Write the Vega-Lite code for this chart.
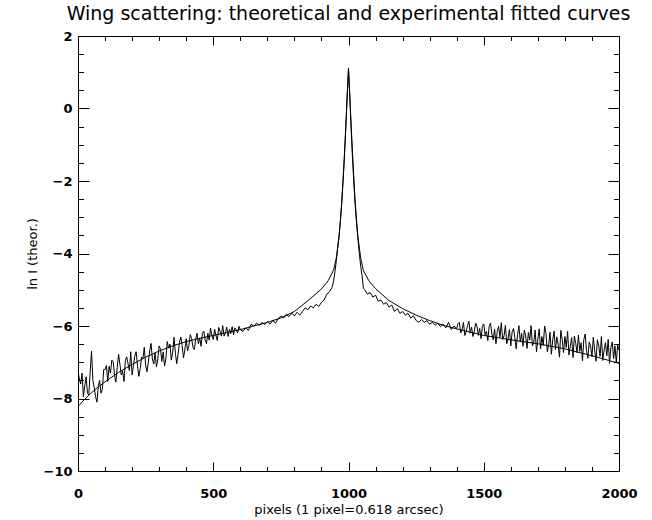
{
  "$schema": "https://vega.github.io/schema/vega-lite/v6.json",
  "autosize": "none",
  "width": 541,
  "height": 435,
  "padding": {"left": 78, "top": 36, "right": 33, "bottom": 49},
  "background": "white",
  "title": {"text": "Wing scattering: theoretical and experimental fitted curves", "font": "DejaVu Sans", "fontSize": 19, "fontWeight": "normal", "color": "black", "offset": 6, "anchor": "middle"},
  "config": {
    "view": {"stroke": "black", "strokeWidth": 1},
    "axis": {"domain": false, "grid": false, "tickColor": "black", "tickWidth": 1, "labelColor": "black", "titleColor": "black", "labelFont": "DejaVu Sans", "labelFontWeight": "bold", "labelFontSize": 13, "titleFont": "DejaVu Sans", "titleFontWeight": "normal", "titleFontSize": 13, "labelFlush": false, "labelOverlap": false}
  },
  "datasets": {
    "theory": [
      {"px": 0, "lnI": -8.22}, {"px": 25, "lnI": -8.02}, {"px": 50, "lnI": -7.84}, {"px": 75, "lnI": -7.68}, {"px": 100, "lnI": -7.54},
      {"px": 150, "lnI": -7.28}, {"px": 200, "lnI": -7.06}, {"px": 250, "lnI": -6.86}, {"px": 300, "lnI": -6.69}, {"px": 350, "lnI": -6.55},
      {"px": 400, "lnI": -6.43}, {"px": 450, "lnI": -6.34}, {"px": 500, "lnI": -6.26}, {"px": 550, "lnI": -6.18}, {"px": 600, "lnI": -6.1},
      {"px": 650, "lnI": -6.0}, {"px": 700, "lnI": -5.9}, {"px": 750, "lnI": -5.78}, {"px": 800, "lnI": -5.6}, {"px": 850, "lnI": -5.3},
      {"px": 900, "lnI": -4.98}, {"px": 925, "lnI": -4.75}, {"px": 945, "lnI": -4.45}, {"px": 955, "lnI": -4.12}, {"px": 965, "lnI": -3.55},
      {"px": 970, "lnI": -3.1}, {"px": 975, "lnI": -2.6}, {"px": 980, "lnI": -1.95}, {"px": 985, "lnI": -1.25}, {"px": 990, "lnI": -0.5},
      {"px": 995, "lnI": 0.3}, {"px": 1000, "lnI": 1.1}, {"px": 1005, "lnI": 0.3}, {"px": 1010, "lnI": -0.5}, {"px": 1015, "lnI": -1.25},
      {"px": 1020, "lnI": -1.95}, {"px": 1025, "lnI": -2.6}, {"px": 1030, "lnI": -3.1}, {"px": 1035, "lnI": -3.55}, {"px": 1045, "lnI": -4.12},
      {"px": 1055, "lnI": -4.47}, {"px": 1075, "lnI": -4.75}, {"px": 1100, "lnI": -4.97}, {"px": 1150, "lnI": -5.3}, {"px": 1200, "lnI": -5.52},
      {"px": 1250, "lnI": -5.7}, {"px": 1300, "lnI": -5.85}, {"px": 1350, "lnI": -5.98}, {"px": 1400, "lnI": -6.08}, {"px": 1450, "lnI": -6.17},
      {"px": 1500, "lnI": -6.26}, {"px": 1600, "lnI": -6.38}, {"px": 1700, "lnI": -6.49}, {"px": 1800, "lnI": -6.63}, {"px": 1900, "lnI": -6.82},
      {"px": 2000, "lnI": -7.03}
    ],
    "measured": [
      {"px": 0, "lnI": -7.25}, {"px": 5, "lnI": -7.45}, {"px": 10, "lnI": -7.6}, {"px": 15, "lnI": -7.3}, {"px": 20, "lnI": -7.95},
      {"px": 25, "lnI": -7.65}, {"px": 30, "lnI": -7.4}, {"px": 35, "lnI": -7.85}, {"px": 40, "lnI": -7.9}, {"px": 45, "lnI": -7.25},
      {"px": 50, "lnI": -6.7}, {"px": 55, "lnI": -7.5}, {"px": 60, "lnI": -7.7}, {"px": 65, "lnI": -7.95}, {"px": 70, "lnI": -8.1},
      {"px": 75, "lnI": -7.65}, {"px": 80, "lnI": -7.5}, {"px": 85, "lnI": -7.85}, {"px": 90, "lnI": -7.75}, {"px": 95, "lnI": -7.2},
      {"px": 100, "lnI": -7.2}, {"px": 105, "lnI": -7.09}, {"px": 110, "lnI": -7.53}, {"px": 115, "lnI": -7.11}, {"px": 120, "lnI": -7.3},
      {"px": 125, "lnI": -6.94}, {"px": 130, "lnI": -6.98}, {"px": 135, "lnI": -7.36}, {"px": 140, "lnI": -7.55}, {"px": 145, "lnI": -7.14},
      {"px": 150, "lnI": -6.78}, {"px": 155, "lnI": -7.06}, {"px": 160, "lnI": -7.35}, {"px": 165, "lnI": -7.24}, {"px": 170, "lnI": -7.53},
      {"px": 175, "lnI": -6.96}, {"px": 180, "lnI": -6.85}, {"px": 185, "lnI": -7.04}, {"px": 190, "lnI": -7.23}, {"px": 195, "lnI": -6.71},
      {"px": 200, "lnI": -7.35}, {"px": 205, "lnI": -7.09}, {"px": 210, "lnI": -6.83}, {"px": 215, "lnI": -6.71}, {"px": 220, "lnI": -7.1},
      {"px": 225, "lnI": -7.39}, {"px": 230, "lnI": -7.18}, {"px": 235, "lnI": -6.86}, {"px": 240, "lnI": -6.9}, {"px": 245, "lnI": -6.59},
      {"px": 250, "lnI": -7.08}, {"px": 255, "lnI": -7.26}, {"px": 260, "lnI": -7.0}, {"px": 265, "lnI": -6.69}, {"px": 270, "lnI": -6.48},
      {"px": 275, "lnI": -6.91}, {"px": 280, "lnI": -7.05}, {"px": 285, "lnI": -6.74}, {"px": 290, "lnI": -7.13}, {"px": 295, "lnI": -6.91},
      {"px": 300, "lnI": -6.55}, {"px": 305, "lnI": -6.64}, {"px": 310, "lnI": -6.98}, {"px": 315, "lnI": -6.71}, {"px": 320, "lnI": -7.1},
      {"px": 325, "lnI": -6.89}, {"px": 330, "lnI": -6.43}, {"px": 335, "lnI": -6.61}, {"px": 340, "lnI": -6.5}, {"px": 345, "lnI": -6.94},
      {"px": 350, "lnI": -6.73}, {"px": 355, "lnI": -6.31}, {"px": 360, "lnI": -6.75}, {"px": 365, "lnI": -7.04}, {"px": 370, "lnI": -6.78},
      {"px": 375, "lnI": -6.46}, {"px": 380, "lnI": -6.3}, {"px": 385, "lnI": -6.54}, {"px": 390, "lnI": -6.88}, {"px": 395, "lnI": -6.66},
      {"px": 400, "lnI": -6.35}, {"px": 405, "lnI": -6.69}, {"px": 410, "lnI": -6.53}, {"px": 415, "lnI": -6.24}, {"px": 420, "lnI": -6.35},
      {"px": 425, "lnI": -6.59}, {"px": 430, "lnI": -6.65}, {"px": 435, "lnI": -6.36}, {"px": 440, "lnI": -6.2}, {"px": 445, "lnI": -6.49},
      {"px": 450, "lnI": -6.33}, {"px": 455, "lnI": -6.56}, {"px": 460, "lnI": -6.2}, {"px": 465, "lnI": -6.14}, {"px": 470, "lnI": -6.38},
      {"px": 475, "lnI": -6.49}, {"px": 480, "lnI": -6.2}, {"px": 485, "lnI": -6.39}, {"px": 490, "lnI": -6.06}, {"px": 495, "lnI": -6.26},
      {"px": 500, "lnI": -6.37}, {"px": 505, "lnI": -6.09}, {"px": 510, "lnI": -6.26}, {"px": 515, "lnI": -6.4}, {"px": 520, "lnI": -6.04},
      {"px": 525, "lnI": -6.14}, {"px": 530, "lnI": -6.28}, {"px": 535, "lnI": -5.99}, {"px": 540, "lnI": -6.28}, {"px": 545, "lnI": -6.18},
      {"px": 550, "lnI": -6.03}, {"px": 555, "lnI": -6.29}, {"px": 560, "lnI": -6.09}, {"px": 565, "lnI": -6.21}, {"px": 570, "lnI": -6.02},
      {"px": 575, "lnI": -6.24}, {"px": 580, "lnI": -6.05}, {"px": 585, "lnI": -6.1}, {"px": 590, "lnI": -6.19}, {"px": 595, "lnI": -6.01},
      {"px": 600, "lnI": -6.1}, {"px": 610, "lnI": -6.15}, {"px": 620, "lnI": -6.05}, {"px": 630, "lnI": -6.12}, {"px": 640, "lnI": -5.95},
      {"px": 650, "lnI": -6.0}, {"px": 660, "lnI": -5.92}, {"px": 670, "lnI": -5.98}, {"px": 680, "lnI": -5.9}, {"px": 690, "lnI": -5.96},
      {"px": 700, "lnI": -5.88}, {"px": 710, "lnI": -5.95}, {"px": 720, "lnI": -5.85}, {"px": 730, "lnI": -5.92}, {"px": 740, "lnI": -5.8},
      {"px": 750, "lnI": -5.72}, {"px": 760, "lnI": -5.78}, {"px": 770, "lnI": -5.68}, {"px": 780, "lnI": -5.74}, {"px": 790, "lnI": -5.65},
      {"px": 800, "lnI": -5.72}, {"px": 810, "lnI": -5.62}, {"px": 820, "lnI": -5.7}, {"px": 830, "lnI": -5.6}, {"px": 840, "lnI": -5.5},
      {"px": 850, "lnI": -5.55}, {"px": 860, "lnI": -5.45}, {"px": 870, "lnI": -5.5}, {"px": 880, "lnI": -5.4}, {"px": 890, "lnI": -5.46},
      {"px": 900, "lnI": -5.35}, {"px": 910, "lnI": -5.28}, {"px": 920, "lnI": -5.12}, {"px": 930, "lnI": -5.05}, {"px": 940, "lnI": -4.92},
      {"px": 945, "lnI": -4.75}, {"px": 950, "lnI": -4.5}, {"px": 955, "lnI": -4.2}, {"px": 960, "lnI": -3.85}, {"px": 965, "lnI": -3.5},
      {"px": 970, "lnI": -3.1}, {"px": 975, "lnI": -2.6}, {"px": 980, "lnI": -2.0}, {"px": 985, "lnI": -1.35}, {"px": 990, "lnI": -0.55},
      {"px": 995, "lnI": 0.35}, {"px": 1000, "lnI": 1.12}, {"px": 1005, "lnI": 0.3}, {"px": 1010, "lnI": -0.6}, {"px": 1015, "lnI": -1.4},
      {"px": 1020, "lnI": -2.1}, {"px": 1025, "lnI": -2.7}, {"px": 1030, "lnI": -3.2}, {"px": 1035, "lnI": -3.6}, {"px": 1040, "lnI": -4.0},
      {"px": 1045, "lnI": -4.35}, {"px": 1050, "lnI": -4.6}, {"px": 1055, "lnI": -4.95}, {"px": 1060, "lnI": -5.0},
      {"px": 1070, "lnI": -5.12}, {"px": 1080, "lnI": -5.08}, {"px": 1090, "lnI": -5.2}, {"px": 1100, "lnI": -5.15}, {"px": 1110, "lnI": -5.32},
      {"px": 1120, "lnI": -5.28}, {"px": 1130, "lnI": -5.4}, {"px": 1140, "lnI": -5.35}, {"px": 1150, "lnI": -5.48}, {"px": 1160, "lnI": -5.42},
      {"px": 1170, "lnI": -5.6}, {"px": 1180, "lnI": -5.52}, {"px": 1190, "lnI": -5.65}, {"px": 1200, "lnI": -5.6}, {"px": 1210, "lnI": -5.7},
      {"px": 1220, "lnI": -5.65}, {"px": 1230, "lnI": -5.78}, {"px": 1240, "lnI": -5.72}, {"px": 1250, "lnI": -5.85}, {"px": 1260, "lnI": -5.9},
      {"px": 1270, "lnI": -5.82}, {"px": 1280, "lnI": -5.9}, {"px": 1290, "lnI": -5.85}, {"px": 1300, "lnI": -5.95}, {"px": 1310, "lnI": -5.9},
      {"px": 1320, "lnI": -5.98}, {"px": 1330, "lnI": -5.92}, {"px": 1340, "lnI": -6.02}, {"px": 1350, "lnI": -5.95}, {"px": 1360, "lnI": -6.05},
      {"px": 1370, "lnI": -5.9}, {"px": 1380, "lnI": -6.1}, {"px": 1390, "lnI": -6.0},
      {"px": 1400, "lnI": -6.07}, {"px": 1405, "lnI": -5.93}, {"px": 1410, "lnI": -5.91}, {"px": 1415, "lnI": -6.19}, {"px": 1420, "lnI": -6.09},
      {"px": 1425, "lnI": -5.9}, {"px": 1430, "lnI": -6.26}, {"px": 1435, "lnI": -6.16}, {"px": 1440, "lnI": -5.99}, {"px": 1445, "lnI": -5.87},
      {"px": 1450, "lnI": -6.2}, {"px": 1455, "lnI": -6.03}, {"px": 1460, "lnI": -6.29}, {"px": 1465, "lnI": -6.15}, {"px": 1470, "lnI": -5.92},
      {"px": 1475, "lnI": -6.01}, {"px": 1480, "lnI": -6.26}, {"px": 1485, "lnI": -6.07}, {"px": 1490, "lnI": -6.35}, {"px": 1495, "lnI": -6.01},
      {"px": 1500, "lnI": -5.94}, {"px": 1505, "lnI": -6.24}, {"px": 1510, "lnI": -6.15}, {"px": 1515, "lnI": -6.4}, {"px": 1520, "lnI": -6.01},
      {"px": 1525, "lnI": -5.92}, {"px": 1530, "lnI": -6.22}, {"px": 1535, "lnI": -6.38}, {"px": 1540, "lnI": -6.08}, {"px": 1545, "lnI": -6.49},
      {"px": 1550, "lnI": -6.15}, {"px": 1555, "lnI": -6.0}, {"px": 1560, "lnI": -6.31}, {"px": 1565, "lnI": -5.91}, {"px": 1570, "lnI": -6.37},
      {"px": 1575, "lnI": -6.27}, {"px": 1580, "lnI": -5.98}, {"px": 1585, "lnI": -6.49}, {"px": 1590, "lnI": -6.34}, {"px": 1595, "lnI": -6.1},
      {"px": 1600, "lnI": -6.55}, {"px": 1605, "lnI": -6.16}, {"px": 1610, "lnI": -6.07}, {"px": 1615, "lnI": -6.32}, {"px": 1620, "lnI": -6.63},
      {"px": 1625, "lnI": -6.23}, {"px": 1630, "lnI": -5.99}, {"px": 1635, "lnI": -6.44}, {"px": 1640, "lnI": -6.2}, {"px": 1645, "lnI": -6.56},
      {"px": 1650, "lnI": -6.11}, {"px": 1655, "lnI": -6.27}, {"px": 1660, "lnI": -6.62}, {"px": 1665, "lnI": -6.18}, {"px": 1670, "lnI": -6.39},
      {"px": 1675, "lnI": -5.99}, {"px": 1680, "lnI": -6.55}, {"px": 1685, "lnI": -6.45}, {"px": 1690, "lnI": -6.11}, {"px": 1695, "lnI": -6.71},
      {"px": 1700, "lnI": -6.37}, {"px": 1705, "lnI": -6.08}, {"px": 1710, "lnI": -6.63}, {"px": 1715, "lnI": -6.29}, {"px": 1720, "lnI": -6.54},
      {"px": 1725, "lnI": -6.0}, {"px": 1730, "lnI": -6.2}, {"px": 1735, "lnI": -6.71}, {"px": 1740, "lnI": -6.52}, {"px": 1745, "lnI": -6.17},
      {"px": 1750, "lnI": -6.78}, {"px": 1755, "lnI": -6.38}, {"px": 1760, "lnI": -6.14}, {"px": 1765, "lnI": -6.65}, {"px": 1770, "lnI": -6.3},
      {"px": 1775, "lnI": -6.51}, {"px": 1780, "lnI": -6.86}, {"px": 1785, "lnI": -6.12}, {"px": 1790, "lnI": -6.37}, {"px": 1795, "lnI": -6.73},
      {"px": 1800, "lnI": -6.29}, {"px": 1805, "lnI": -6.59}, {"px": 1810, "lnI": -6.15}, {"px": 1815, "lnI": -6.8}, {"px": 1820, "lnI": -6.56},
      {"px": 1825, "lnI": -6.32}, {"px": 1830, "lnI": -6.87}, {"px": 1835, "lnI": -6.28}, {"px": 1840, "lnI": -6.48}, {"px": 1845, "lnI": -6.74},
      {"px": 1850, "lnI": -6.25}, {"px": 1855, "lnI": -6.7}, {"px": 1860, "lnI": -6.46}, {"px": 1865, "lnI": -6.96}, {"px": 1870, "lnI": -6.37},
      {"px": 1875, "lnI": -6.22}, {"px": 1880, "lnI": -6.68}, {"px": 1885, "lnI": -6.89}, {"px": 1890, "lnI": -6.44}, {"px": 1895, "lnI": -6.55},
      {"px": 1900, "lnI": -6.85}, {"px": 1905, "lnI": -6.31}, {"px": 1910, "lnI": -6.67}, {"px": 1915, "lnI": -6.97}, {"px": 1920, "lnI": -6.38},
      {"px": 1925, "lnI": -6.53}, {"px": 1930, "lnI": -6.84}, {"px": 1935, "lnI": -6.29}, {"px": 1940, "lnI": -6.95}, {"px": 1945, "lnI": -6.66},
      {"px": 1950, "lnI": -6.46}, {"px": 1955, "lnI": -6.82}, {"px": 1960, "lnI": -6.37}, {"px": 1965, "lnI": -7.03}, {"px": 1970, "lnI": -6.59},
      {"px": 1975, "lnI": -6.44}, {"px": 1980, "lnI": -6.9}, {"px": 1985, "lnI": -6.55}, {"px": 1990, "lnI": -7.01}, {"px": 1995, "lnI": -6.51},
      {"px": 2000, "lnI": -6.67}
    ]
  },
  "resolve": {"axis": {"x": "independent", "y": "independent"}},
  "layer": [
    {
      "data": {"name": "measured"},
      "mark": {"type": "line", "color": "black", "strokeWidth": 1, "clip": true},
      "encoding": {
        "x": {"field": "px", "type": "quantitative", "scale": {"domain": [0, 2000], "nice": false, "zero": false},
              "axis": {"orient": "bottom", "values": [0, 500, 1000, 1500, 2000], "tickSize": -9, "labelPadding": 25, "format": "d", "title": "pixels (1 pixel=0.618 arcsec)", "titlePadding": 3}},
        "y": {"field": "lnI", "type": "quantitative", "scale": {"domain": [-10, 2], "nice": false, "zero": false},
              "axis": {"orient": "left", "values": [-10, -8, -6, -4, -2, 0, 2], "tickSize": -11, "labelPadding": 17, "format": "d", "title": "ln I (theor.)", "titlePadding": 4}}
      }
    },
    {
      "data": {"name": "theory"},
      "mark": {"type": "line", "color": "black", "strokeWidth": 1, "clip": true},
      "encoding": {
        "x": {"field": "px", "type": "quantitative",
              "axis": {"orient": "bottom", "values": [100, 200, 300, 400, 600, 700, 800, 900, 1100, 1200, 1300, 1400, 1600, 1700, 1800, 1900], "tickSize": -4.5, "labels": false, "title": null}},
        "y": {"field": "lnI", "type": "quantitative",
              "axis": {"orient": "left", "values": [-9.5, -9, -8.5, -7.5, -7, -6.5, -5.5, -5, -4.5, -3.5, -3, -2.5, -1.5, -1, -0.5, 0.5, 1, 1.5], "tickSize": -5.5, "labels": false, "title": null}}
      }
    },
    {
      "data": {"name": "theory"},
      "mark": {"type": "line", "color": "black", "strokeOpacity": 0},
      "encoding": {
        "x": {"field": "px", "type": "quantitative",
              "axis": {"orient": "top", "values": [0, 500, 1000, 1500, 2000], "tickSize": -9, "labels": false, "title": null}},
        "y": {"field": "lnI", "type": "quantitative",
              "axis": {"orient": "right", "values": [-10, -8, -6, -4, -2, 0, 2], "tickSize": -11, "labels": false, "title": null}}
      }
    },
    {
      "data": {"name": "theory"},
      "mark": {"type": "line", "color": "black", "strokeOpacity": 0},
      "encoding": {
        "x": {"field": "px", "type": "quantitative",
              "axis": {"orient": "top", "values": [100, 200, 300, 400, 600, 700, 800, 900, 1100, 1200, 1300, 1400, 1600, 1700, 1800, 1900], "tickSize": -4.5, "labels": false, "title": null}},
        "y": {"field": "lnI", "type": "quantitative",
              "axis": {"orient": "right", "values": [-9.5, -9, -8.5, -7.5, -7, -6.5, -5.5, -5, -4.5, -3.5, -3, -2.5, -1.5, -1, -0.5, 0.5, 1, 1.5], "tickSize": -5.5, "labels": false, "title": null}}
      }
    }
  ]
}
